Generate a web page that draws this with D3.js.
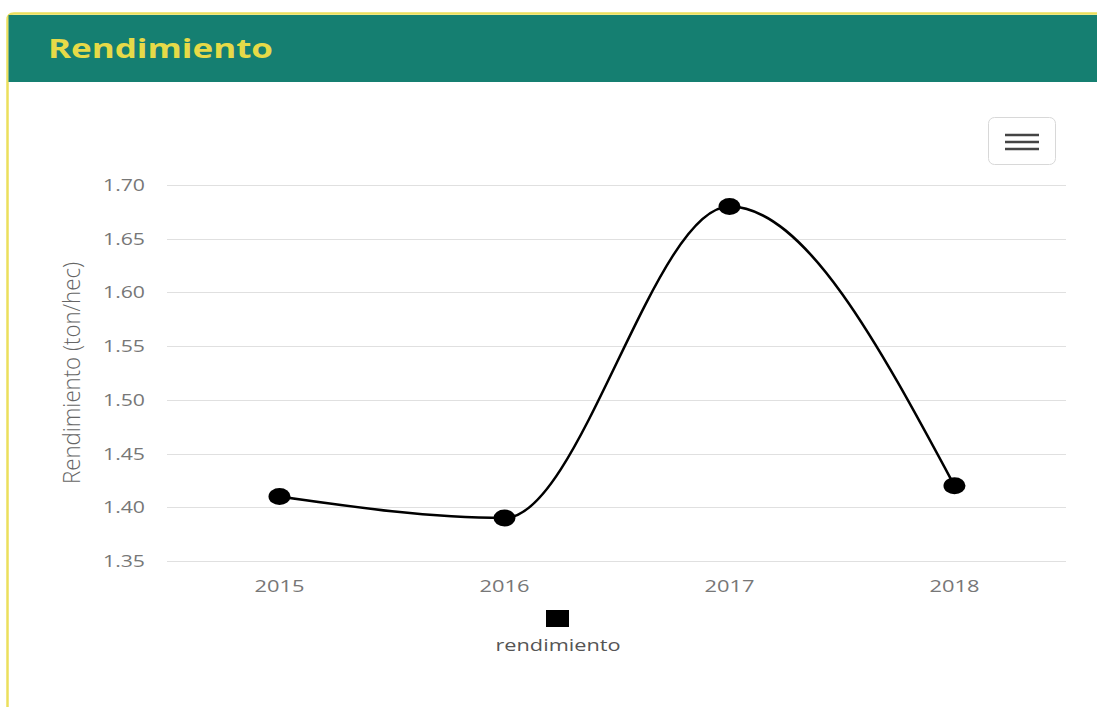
<!DOCTYPE html>
<html>
<head>
<meta charset="utf-8">
<script src="https://cdn.jsdelivr.net/npm/d3@7"></script>
<style>
  html, body { margin: 0; padding: 0; background: #fff; }
  svg { display: block; font-family: "Open Sans", "Noto Sans", sans-serif; }
</style>
</head>
<body>
<svg id="chart" width="1097" height="707"></svg>
<script>
// datos del gráfico
const years = ['2015', '2016', '2017', '2018'];
const rendimiento = [1.41, 1.39, 1.68, 1.42];
const yTicks = [1.35, 1.40, 1.45, 1.50, 1.55, 1.60, 1.65, 1.70];
const seriesName = 'rendimiento';
const panelTitle = 'Rendimiento';
const yTitle = 'Rendimiento (ton/hec)';

const svg = d3.select('#chart');
const W = 1097, H = 707;
const plot = { left: 167, right: 1067, top: 185, bottom: 561 };

// la captura está estirada en horizontal: fijamos el ancho del texto
function fit(sel, len) {
  sel.attr('textLength', len).attr('lengthAdjust', 'spacingAndGlyphs');
}

// panel: borde amarillo + cabecera verde
svg.append('path')
  .attr('d', `M7.5,${H} L7.5,20 Q7.5,13.5 14,13.5 L${W},13.5`)
  .attr('fill', 'none').attr('stroke', '#ecdf5c').attr('stroke-width', 2.5);
svg.append('rect')
  .attr('x', 8.5).attr('y', 15).attr('width', W - 8).attr('height', 67)
  .attr('fill', '#157f71');
svg.append('text')
  .attr('x', 48).attr('y', 58)
  .attr('fill', '#e6da48').attr('font-size', 27).attr('font-weight', 700)
  .text(panelTitle)
  .call(fit, 225);

// escalas
const x = d3.scalePoint().domain(years).range([plot.left, plot.right]).padding(0.5);
const y = d3.scaleLinear().domain([1.35, 1.70]).range([plot.bottom, plot.top]);

// rejilla
svg.append('g')
  .selectAll('line').data(yTicks).join('line')
  .attr('x1', plot.left).attr('x2', plot.right - 1)
  .attr('y1', d => Math.round(y(d)) + 0.5).attr('y2', d => Math.round(y(d)) + 0.5)
  .attr('stroke', '#e0e0e0').attr('stroke-width', 1);

// etiquetas eje Y
svg.append('g')
  .selectAll('text').data(yTicks).join('text')
  .attr('x', 145).attr('y', d => y(d) + 6)
  .attr('text-anchor', 'end')
  .attr('fill', '#777').attr('font-size', 16.5)
  .text(d => d.toFixed(2))
  .call(fit, 42);

// título eje Y
svg.append('text')
  .attr('transform', `translate(80,${(plot.top + plot.bottom) / 2}) rotate(-90)`)
  .attr('text-anchor', 'middle')
  .attr('fill', '#666').attr('font-size', 24).attr('font-weight', 300)
  .text(yTitle)
  .call(fit, 222);

// etiquetas eje X
svg.append('g')
  .selectAll('text').data(years).join('text')
  .attr('x', d => x(d)).attr('y', 592)
  .attr('text-anchor', 'middle')
  .attr('fill', '#777').attr('font-size', 16.5)
  .text(d => d)
  .call(fit, 50);

// línea suavizada
const pts = years.map((yr, i) => [x(yr), y(rendimiento[i])]);
svg.append('path')
  .attr('d', d3.line().curve(d3.curveMonotoneX)(pts))
  .attr('fill', 'none').attr('stroke', '#000').attr('stroke-width', 2.5);

svg.append('g')
  .selectAll('ellipse').data(pts).join('ellipse')
  .attr('cx', d => d[0]).attr('cy', d => d[1])
  .attr('rx', 11).attr('ry', 8.5)
  .attr('fill', '#000');

// leyenda
svg.append('rect')
  .attr('x', 546).attr('y', 610).attr('width', 23).attr('height', 17)
  .attr('fill', '#000');
svg.append('text')
  .attr('x', 558).attr('y', 651)
  .attr('text-anchor', 'middle')
  .attr('fill', '#555').attr('font-size', 16)
  .text(seriesName)
  .call(fit, 125);

// botón de menú
const btn = svg.append('g');
btn.append('rect')
  .attr('x', 988.5).attr('y', 117.5).attr('width', 67).attr('height', 47).attr('rx', 6)
  .attr('fill', '#fff').attr('stroke', '#d8d8d8').attr('stroke-width', 1);
btn.selectAll('line').data([135, 142, 149]).join('line')
  .attr('x1', 1005).attr('x2', 1039)
  .attr('y1', d => d).attr('y2', d => d)
  .attr('stroke', '#444').attr('stroke-width', 2.5);
</script>
</body>
</html>
